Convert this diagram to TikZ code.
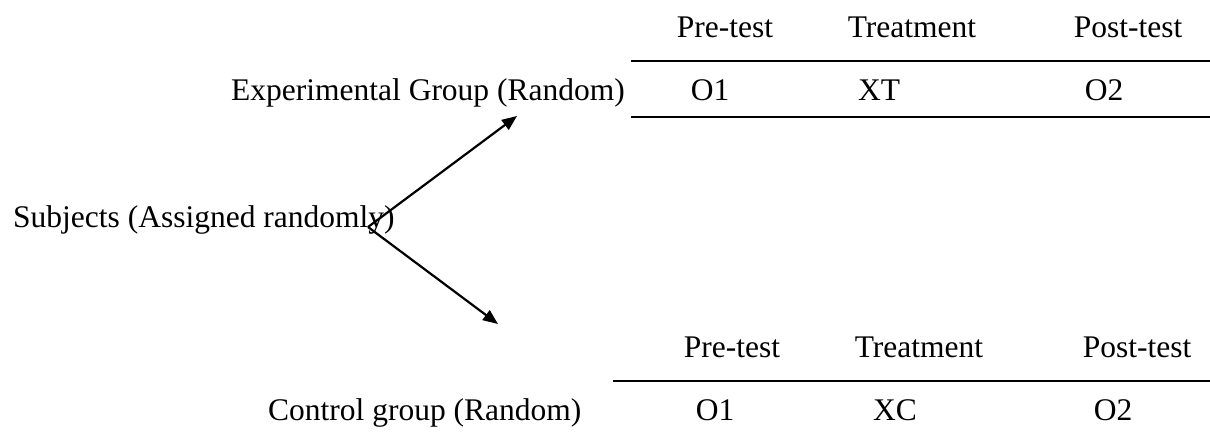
\documentclass[tikz,border=0pt]{standalone}
\usepackage{fontspec}
\setmainfont{Liberation Serif}
\usetikzlibrary{arrows.meta}

\tikzset{
  lbl/.style={inner sep=0pt, anchor=base, font=\fontsize{31.5}{38}\selectfont},
  rule/.style={line width=2pt},
  branch/.style={line width=2.2pt, -{Triangle[length=15pt,width=12pt]}}
}

\begin{document}
\begin{tikzpicture}[x=1pt, y=-1pt]
  \useasboundingbox (0,0) rectangle (1210,442);

  % source of the random assignment
  \node[lbl, anchor=base west] (subj) at (13,227) {Subjects (Assigned randomly)};
  \coordinate (split) at (368,227);
  \coordinate (toexp) at (517,116);
  \coordinate (toctl) at (498,324);

  % experimental group row
  \node[lbl, anchor=base east] (exp) at (625,100) {Experimental Group (Random)};
  \node[lbl] (epre)  at (725,37)  {Pre-test};
  \node[lbl] (etrt)  at (912,37)  {Treatment};
  \node[lbl] (epost) at (1128,37) {Post-test};
  \node[lbl] (eo1)   at (710,100) {O1};
  \node[lbl] (ext)   at (879,100) {XT};
  \node[lbl] (eo2)   at (1104,100) {O2};
  \coordinate (etopL) at (631,61);  \coordinate (etopR) at (1210,61);
  \coordinate (ebotL) at (631,117); \coordinate (ebotR) at (1210,117);

  % control group row
  \node[lbl, anchor=base west] (ctl) at (268,420) {Control group (Random)};
  \node[lbl] (cpre)  at (732,357)  {Pre-test};
  \node[lbl] (ctrt)  at (919,357)  {Treatment};
  \node[lbl] (cpost) at (1137,357) {Post-test};
  \node[lbl] (co1)   at (715,420) {O1};
  \node[lbl] (cxc)   at (895,420) {XC};
  \node[lbl] (co2)   at (1113,420) {O2};
  \coordinate (ctopL) at (613,381); \coordinate (ctopR) at (1210,381);

  % table rules
  \draw[rule] (etopL) -- (etopR);
  \draw[rule] (ebotL) -- (ebotR);
  \draw[rule] (ctopL) -- (ctopR);

  % assignment arrows
  \draw[branch] (split) -- (toexp);
  \draw[branch] (split) -- (toctl);
\end{tikzpicture}
\end{document}
